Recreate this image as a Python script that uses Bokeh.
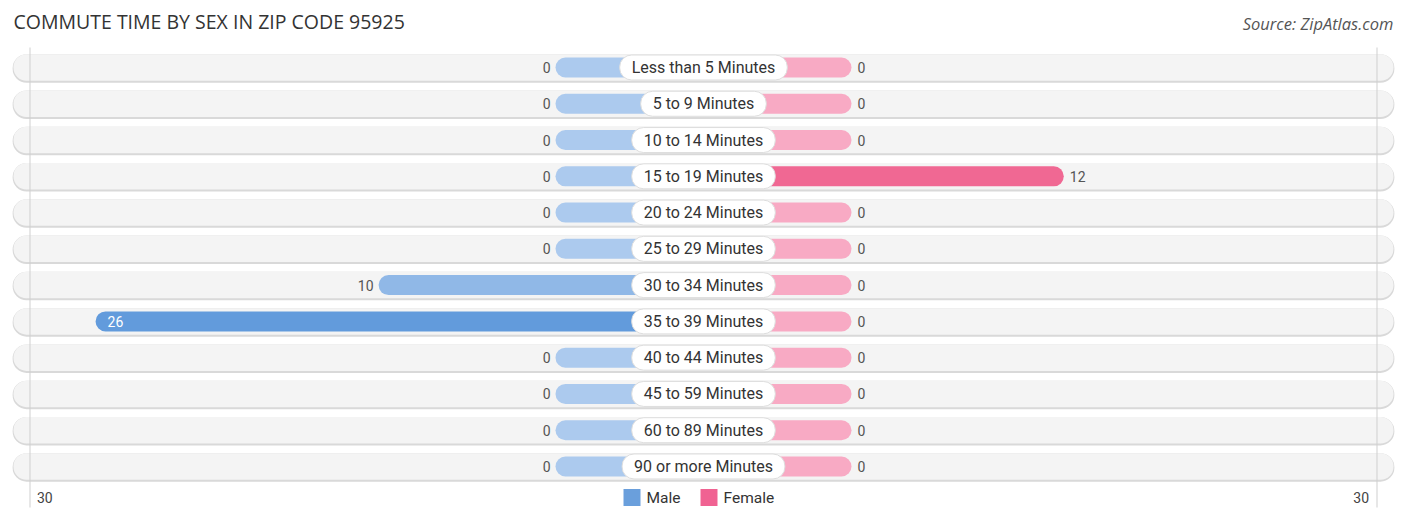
from bokeh.plotting import figure
from bokeh.models import Range1d, Label, ColumnDataSource
from bokeh.core.properties import value
from bokeh.embed import file_html
from bokeh.resources import INLINE

categories = ["Less than 5 Minutes", "5 to 9 Minutes", "10 to 14 Minutes", "15 to 19 Minutes",
              "20 to 24 Minutes", "25 to 29 Minutes", "30 to 34 Minutes", "35 to 39 Minutes",
              "40 to 44 Minutes", "45 to 59 Minutes", "60 to 89 Minutes", "90 or more Minutes"]
male = [0, 0, 0, 0, 0, 0, 10, 26, 0, 0, 0, 0]
female = [0, 0, 0, 12, 0, 0, 0, 0, 0, 0, 0, 0]
axis_max = 30
title = "COMMUTE TIME BY SEX IN ZIP CODE 95925"
source_text = "Source: ZipAtlas.com"

W, H = 1406, 522
PXU = 17.69          # pixels per unit
ROW = 36.27          # pixels per row
OFFSET = 148 / PXU   # bar stub under the label
CENTER = 703
half = CENTER / PXU
y_top = (0 - 67) / ROW
y_bot = (H - 67) / ROW
AXIS_X = 673.5 / PXU

def blend(c0, c1, t):
    return "#%02x%02x%02x" % tuple(int(round(a + (b - a) * t)) for a, b in zip(c0, c1))

mmax = max(male) or 1
fmax = max(female) or 1
male_colors = [blend((172, 202, 238), (98, 155, 220), v / mmax) for v in male]
female_colors = [blend((248, 170, 196), (240, 104, 147), v / fmax) for v in female]

n = len(categories)
ys = list(range(n))

p = figure(width=W, height=H, output_backend="svg", toolbar_location=None,
           x_range=Range1d(-half, half), y_range=Range1d(y_bot, y_top),
           min_border=0)
p.axis.visible = False
p.grid.visible = False
p.outline_line_color = None
p.background_fill_color = "white"

bg_half = 690 / PXU
# row backgrounds (shadow + fill)
p.hbar(y=[y + 1.0 / ROW for y in ys], left=-bg_half - 0.05, right=bg_half + 0.05, height=28.5 / ROW,
       fill_color="#d9d9d9", line_color=None, border_radius=14)
p.hbar(y=ys, left=-bg_half, right=bg_half, height=26.5 / ROW,
       fill_color="#f4f4f4", line_color=None, border_radius=13)

# axis lines at +/- axis_max
p.segment(x0=[-AXIS_X, AXIS_X], x1=[-AXIS_X, AXIS_X], y0=[(47 - 67) / ROW] * 2, y1=[(507 - 67) / ROW] * 2,
          line_color="#cfcfcf", line_width=1)

# bars
msrc = ColumnDataSource(dict(y=ys, left=[-(v + OFFSET) for v in male], right=[0] * n, c=male_colors))
fsrc = ColumnDataSource(dict(y=ys, left=[0] * n, right=[v + OFFSET for v in female], c=female_colors))
p.hbar(y="y", left="left", right="right", height=20 / ROW, fill_color="c", line_color=None,
       border_radius=10, source=msrc)
p.hbar(y="y", left="left", right="right", height=20 / ROW, fill_color="c", line_color=None,
       border_radius=10, source=fsrc)

# value labels
inside = 20
mo_x, mo_t, mo_c, mo_a, mo_off = [], [], [], [], []
for v in male:
    mo_x.append(-(v + OFFSET))
    mo_t.append(str(v))
    if v >= inside:
        mo_c.append("white"); mo_a.append("left"); mo_off.append(12)
    else:
        mo_c.append("#555555"); mo_a.append("right"); mo_off.append(-5)
p.text(x=mo_x, y=ys, text=mo_t, text_color=mo_c, text_align=mo_a, x_offset=mo_off,
       text_baseline="middle", text_font=value("Roboto"), text_font_size="14px")
fo_x, fo_t, fo_c, fo_a, fo_off = [], [], [], [], []
for v in female:
    fo_x.append(v + OFFSET)
    fo_t.append(str(v))
    if v >= inside:
        fo_c.append("white"); fo_a.append("right"); fo_off.append(-12)
    else:
        fo_c.append("#555555"); fo_a.append("left"); fo_off.append(6)
p.text(x=fo_x, y=ys, text=fo_t, text_color=fo_c, text_align=fo_a, x_offset=fo_off,
       text_baseline="middle", text_font=value("Roboto"), text_font_size="14px")

# category labels with pill background
p.text(x=[0] * n, y=ys, text=categories, text_align="center", text_baseline="middle",
       text_font=value("Roboto"), text_font_size="16px", text_color="#333333",
       background_fill_color="white", border_line_color="#dddddd", border_line_width=1,
       padding=(12, 3), border_radius=12)

# axis tick labels
y_ax = (497 - 67) / ROW
p.text(x=[-AXIS_X], y=[y_ax], text=[str(axis_max)], text_align="left", x_offset=[7],
       text_baseline="middle", text_font=value("Roboto"), text_font_size="14px", text_color="#444444")
p.text(x=[AXIS_X], y=[y_ax], text=[str(axis_max)], text_align="right", x_offset=[-8],
       text_baseline="middle", text_font=value("Roboto"), text_font_size="14px", text_color="#444444")

# legend
p.scatter(x=[(631.5 - CENTER) / PXU, (708.5 - CENTER) / PXU], y=[y_ax, y_ax], marker="square", size=17,
          fill_color=["#6a9fdc", "#f06292"], line_color=None)
p.text(x=[(646 - CENTER) / PXU, (723 - CENTER) / PXU], y=[y_ax, y_ax], text=["Male", "Female"],
       text_align="left", text_baseline="middle", text_font=value("Roboto"), text_font_size="15.5px",
       text_color="#333333")

p.add_layout(Label(x=13, y=H - 21, x_units="screen", y_units="screen", text=title,
                   text_font="Open Sans", text_font_size="19.5px", text_color="#333333",
                   text_baseline="middle", text_align="left"))
p.add_layout(Label(x=1393, y=H - 23, x_units="screen", y_units="screen", text=source_text,
                   text_font="Open Sans", text_font_size="16.5px", text_color="#555555",
                   text_font_style="italic", text_baseline="middle", text_align="right"))

open("out.html", "w").write(file_html(p, INLINE))
